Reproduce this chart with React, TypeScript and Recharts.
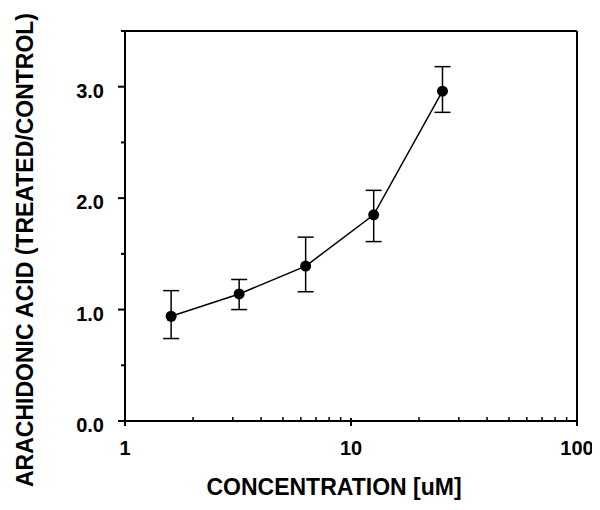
import { ComposedChart, Line, XAxis, YAxis, ErrorBar, ReferenceLine, Label } from 'recharts'

const concentrations = [1.6, 3.2, 6.3, 12.6, 25.4]
const means = [0.94, 1.14, 1.39, 1.85, 2.96]
const lower = [0.74, 1.0, 1.16, 1.61, 2.77]
const upper = [1.17, 1.27, 1.65, 2.07, 3.18]

const xTicks = [1, 2, 3, 4, 5, 6, 7, 8, 9, 10, 20, 30, 40, 50, 60, 70, 80, 90, 100]
const xLabels = [1, 10, 100]
const yTicks = [0, 0.5, 1, 1.5, 2, 2.5, 3, 3.5]
const yLabels = [0, 1, 2, 3]

const data = concentrations.map((c, i) => ({
  conc: c,
  value: means[i],
  err: [means[i] - lower[i], upper[i] - means[i]],
}))

const FONT = '"Liberation Sans", Arial, sans-serif'

const XTick = (props: any) => {
  const { x, y, payload } = props
  const major = xLabels.includes(payload.value)
  return (
    <g>
      {major ? (
        <line x1={x} x2={x} y1={y - 3} y2={y + 5} stroke="#000" strokeWidth={2} />
      ) : (
        <line x1={x} x2={x} y1={y - 4} y2={y} stroke="#000" strokeWidth={1.5} />
      )}
      {major && (
        <text x={x} y={y + 34} textAnchor="middle" fontFamily={FONT} fontWeight="bold" fontSize={20} fill="#000">
          {payload.value}
        </text>
      )}
    </g>
  )
}

const YTick = (props: any) => {
  const { x, y, payload } = props
  const major = yLabels.includes(payload.value)
  return (
    <g>
      <line x1={x - (major ? 7 : 4)} x2={x} y1={y} y2={y} stroke="#000" strokeWidth={2} />
      {major && (
        <text x={x - 21} y={y + 11} textAnchor="end" fontFamily={FONT} fontWeight="bold" fontSize={20} fill="#000">
          {payload.value.toFixed(1)}
        </text>
      )}
    </g>
  )
}

const App = () => {
  return (
    <ComposedChart width={592} height={494} data={data} margin={{ top: 23, right: 23, left: 0, bottom: 0 }}>
      <XAxis
        dataKey="conc"
        type="number"
        scale="log"
        domain={[1, 100]}
        allowDataOverflow
        ticks={xTicks}
        interval={0}
        tick={<XTick />}
        tickSize={0}
        tickMargin={0}
        tickLine={false}
        axisLine={{ stroke: '#000', strokeWidth: 2 }}
        height={81}
      >
        <Label
          content={({ viewBox }: any) => (
            <text
              x={viewBox.x + viewBox.width / 2 - 17}
              y={viewBox.y + 74}
              textAnchor="middle"
              fontFamily={FONT}
              fontWeight="bold"
              fontSize={23}
              fill="#000"
            >
              CONCENTRATION [uM]
            </text>
          )}
        />
      </XAxis>
      <YAxis
        type="number"
        domain={[0, 3.5]}
        ticks={yTicks}
        interval={0}
        tick={<YTick />}
        tickSize={0}
        tickMargin={0}
        tickLine={false}
        axisLine={{ stroke: '#000', strokeWidth: 2 }}
        width={117}
      >
        <Label
          content={({ viewBox }: any) => {
            const cx = viewBox.x + 25
            const cy = viewBox.y + viewBox.height / 2 + 24
            return (
              <text
                x={cx}
                y={cy}
                transform={`rotate(-90 ${cx} ${cy})`}
                textAnchor="middle"
                fontFamily={FONT}
                fontWeight="bold"
                fontSize={23}
                fill="#000"
              >
                ARACHIDONIC ACID (TREATED/CONTROL)
              </text>
            )
          }}
        />
      </YAxis>
      <ReferenceLine y={3.5} stroke="#000" strokeWidth={2} />
      <ReferenceLine x={100} stroke="#000" strokeWidth={2} />
      <Line
        dataKey="value"
        stroke="#000"
        strokeWidth={1.5}
        dot={{ r: 5.5, fill: '#000', stroke: '#000', strokeWidth: 0 }}
        activeDot={false}
        isAnimationActive={false}
      >
        <ErrorBar dataKey="err" direction="y" width={8} stroke="#000" strokeWidth={1.5} isAnimationActive={false} />
      </Line>
    </ComposedChart>
  )
}

export default App
